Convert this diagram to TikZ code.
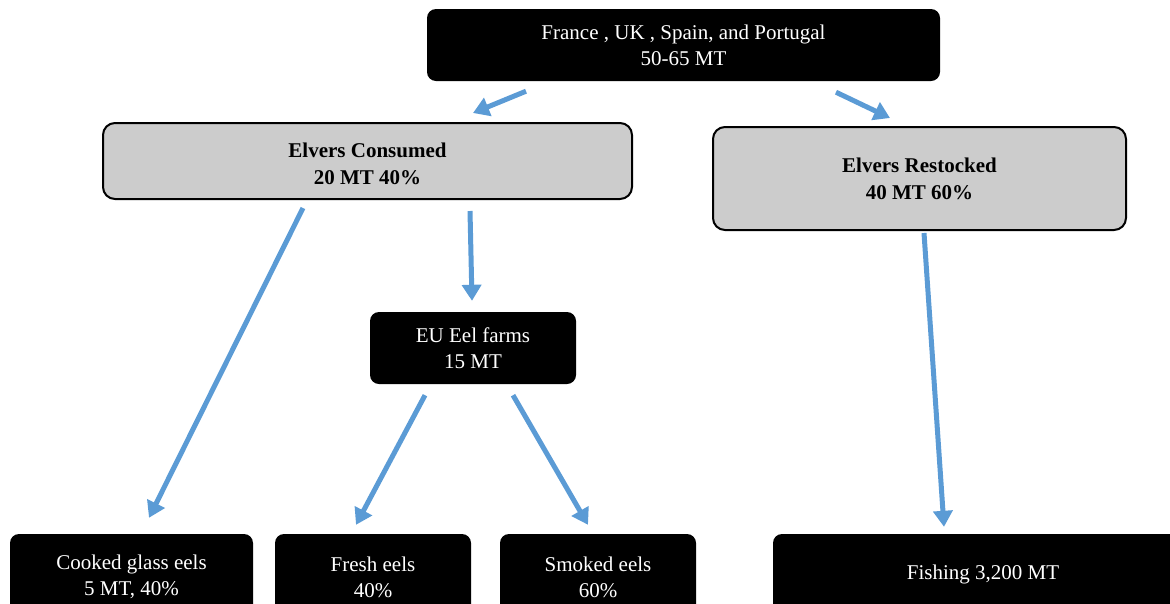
\documentclass[tikz,border=0pt]{standalone}
\usepackage{fontspec}
\setmainfont{Liberation Serif}
\usetikzlibrary{arrows.meta}
\definecolor{arrblue}{HTML}{5B9BD5}
\definecolor{boxgray}{HTML}{CCCCCC}
\newcommand{\lowerby}[1]{\raisebox{-3pt}[\height][\depth]{#1}}
\tikzset{
  darkbox/.style={fill=black, text=white, rounded corners=9pt, inner sep=0pt, align=center, font=\fontsize{21}{26}\selectfont},
  graybox/.style={fill=boxgray, draw=black, line width=2pt, rounded corners=12pt, inner sep=0pt, align=center, font=\fontsize{21}{27}\selectfont\bfseries},
  arr/.style={draw=arrblue, line width=5pt, -{Triangle[width=19pt,length=16pt]}},
}
\begin{document}
\begin{tikzpicture}[x=1pt,y=-1pt]
\useasboundingbox (0,0) rectangle (1170,603);
\clip (0,0) rectangle (1170,603);
\node[darkbox, minimum width=513pt, minimum height=72pt] (top) at (683.5,45) {France , UK , Spain, and Portugal\\50-65 MT};
\node[graybox, minimum width=529pt, minimum height=76pt] (cons) at (367.5,161) {\lowerby{Elvers Consumed}\\\lowerby{20 MT 40\%}};
\node[graybox, minimum width=413pt, minimum height=103pt] (rest) at (919.5,178.5) {Elvers Restocked\\40 MT 60\%};
\node[darkbox, minimum width=206pt, minimum height=72pt] (farm) at (473,348) {EU Eel farms\\15 MT};
\node[darkbox, minimum width=243pt, minimum height=86pt] (cook) at (131.5,577) {Cooked glass eels\\5 MT, 40\%};
\node[darkbox, minimum width=196pt, minimum height=86pt] (fresh) at (373,577) {Fresh eels\\40\%};
\node[darkbox, minimum width=196pt, minimum height=86pt] (smok) at (598,577) {Smoked eels\\60\%};
\node[darkbox, minimum width=420pt, minimum height=80pt] (fish) at (983,574) {Fishing 3,200 MT};
\draw[arr] ([shift={(-157.5,10)}]top.south) -- ([shift={(105.5,-9)}]cons.north);
\draw[arr] ([shift={(152.5,11)}]top.south) -- ([shift={(-29.5,-8)}]rest.north);
\draw[arr] ([shift={(-64.5,8)}]cons.south) -- ([shift={(17.5,-16)}]cook.north);
\draw[arr] ([shift={(102.5,11)}]cons.south) -- ([shift={(-1,-11)}]farm.north);
\draw[arr] ([shift={(-48,11)}]farm.south) -- ([shift={(-17,-9)}]fresh.north);
\draw[arr] ([shift={(40,11)}]farm.south) -- ([shift={(-10,-9)}]smok.north);
\draw[arr] ([shift={(4.5,2)}]rest.south) -- ([shift={(-39,-7)}]fish.north);
\end{tikzpicture}
\end{document}
